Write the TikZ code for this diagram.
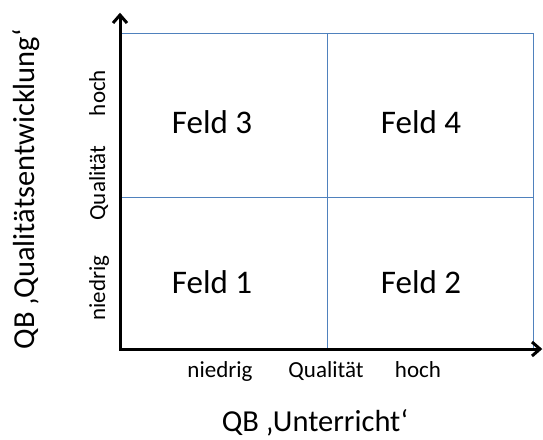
\documentclass[tikz,border=0pt]{standalone}
\usepackage{fontspec}
\setmainfont{Carlito}
\usetikzlibrary{calc}
\definecolor{gridblue}{HTML}{4F81BD}
\tikzset{
  gridline/.style={draw=gridblue, line width=1pt},
  axisline/.style={draw=black, line width=3pt, line join=miter},
  chevron/.style={draw=black, line width=3pt, line join=miter, miter limit=4, line cap=butt},
  feld/.style={font=\fontsize{33}{38}\selectfont, inner sep=0pt, anchor=base},
  small/.style={font=\fontsize{23}{27}\selectfont, inner sep=0pt, anchor=base},
  axistitle/.style={font=\fontsize{30.5}{36}\selectfont, inner sep=0pt, anchor=base}
}
\begin{document}
\begin{tikzpicture}[x=1pt,y=-1pt]
\useasboundingbox (0,0) rectangle (543,439);
% grid coordinates
\coordinate (tl) at (120,33);
\coordinate (tm) at (327,33);
\coordinate (tr) at (533,33);
\coordinate (ml) at (120,197);
\coordinate (mr) at (533,197);
\coordinate (bm) at (327,349);
\coordinate (br) at (533,349);
\coordinate (origin) at (120,349);
\coordinate (ytip) at (120,15);
\coordinate (xtip) at (540,349);
% grid
\draw[gridline] (tl) -- (tr) -- (br);
\draw[gridline] (ml) -- (mr);
\draw[gridline] (tm) -- (bm);
% axes
\draw[axisline] (ytip) -- (origin) -- (xtip);
\draw[chevron] ($(ytip)+(-7,8)$) -- (ytip) -- ($(ytip)+(7,8)$);
\draw[chevron] ($(xtip)+(-8,-7)$) -- (xtip) -- ($(xtip)+(-8,7)$);
% field labels
\node[feld] (f3) at (212,133) {Feld 3};
\node[feld] (f4) at (421,133) {Feld 4};
\node[feld] (f1) at (212,293) {Feld 1};
\node[feld] (f2) at (421,293) {Feld 2};
% x-axis labels
\node[small] (xn) at (220,377) {niedrig};
\node[small] (xq) at (326,377) {Qualität};
\node[small] (xh) at (418,377) {hoch};
\node[axistitle] (xt) at (315,431) {QB ‚Unterricht‘};
% y-axis labels
\node[small, rotate=90] (yn) at (105,288) {niedrig};
\node[small, rotate=90] (yq) at (105,183) {Qualität};
\node[small, rotate=90] (yh) at (105,93) {hoch};
\node[axistitle, rotate=90] (yt) at (34,189) {QB ‚Qualitätsentwicklung‘};
\end{tikzpicture}
\end{document}
